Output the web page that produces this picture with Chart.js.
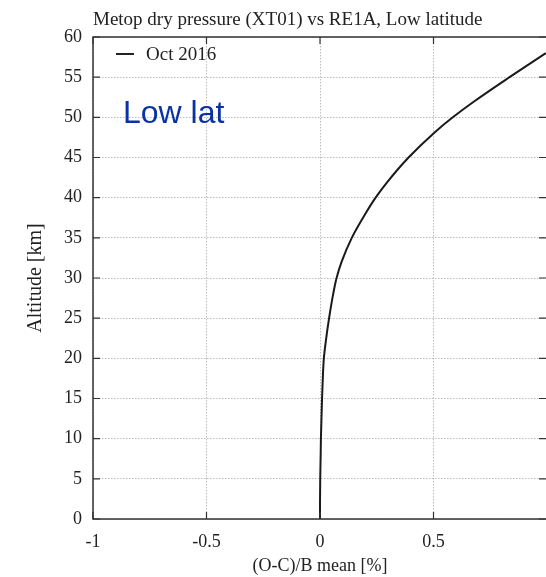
<!DOCTYPE html>
<html>
<head>
<meta charset="utf-8">
<script src="https://cdn.jsdelivr.net/npm/chart.js@4"></script>
<style>
  html, body { margin: 0; padding: 0; background: #fff; }
  #wrap { width: 546px; height: 577px; }
</style>
</head>
<body>
<div id="wrap"><canvas id="chartCanvas" width="546" height="577"></canvas></div>
<script>
// Altitude [km] and mean (O-C)/B [%]
const altitudes = [0, 2, 5, 8, 10, 12, 15, 18, 20, 22, 25, 28, 30, 32, 35, 38, 40, 42, 45, 48, 50, 52, 55, 58];
const omcMean = [0, 0, 0.001, 0.003, 0.004, 0.006, 0.009, 0.013, 0.017, 0.025, 0.04, 0.058, 0.073, 0.095, 0.14, 0.2, 0.245, 0.298, 0.39, 0.5, 0.585, 0.68, 0.835, 0.995];
const seriesLabel = 'Oct 2016';
const chartTitleText = 'Metop dry pressure (XT01) vs RE1A, Low latitude';
const xTicks = [-1, -0.5, 0, 0.5, 1];
const yTicks = [0, 5, 10, 15, 20, 25, 30, 35, 40, 45, 50, 55, 60];

const serif = '"Liberation Serif", "Times New Roman", serif';

// the original plot is cropped at x = 1, right on the picture's edge
const stretchArea = {
    id: 'stretchArea',
    afterLayout(chart) {
        const area = chart.chartArea;
        const xs = chart.scales.x;
        area.right = 547;
        area.width = area.right - area.left;
        xs.right = 547;
        xs.width = xs.right - xs.left;
        xs.configure();
    }
};

// Title, legend, note, frame and inward ticks (gnuplot look)
const decorations = {
    id: 'decorations',
    afterDraw(chart) {
        const { ctx, chartArea: a, scales } = chart;
        ctx.save();
        ctx.fillStyle = '#222';
        ctx.textBaseline = 'alphabetic';
        ctx.font = '19px ' + serif;
        ctx.textAlign = 'left';
        ctx.fillText(chartTitleText, 93, 25);

        // legend
        ctx.strokeStyle = '#222';
        ctx.lineWidth = 2;
        ctx.beginPath();
        ctx.moveTo(116, 54);
        ctx.lineTo(134, 54);
        ctx.stroke();
        ctx.fillText(seriesLabel, 146, 60);

        // panel note
        ctx.fillStyle = '#0a32a5';
        ctx.font = '32px "Liberation Sans", Arial, sans-serif';
        ctx.fillText('Low lat', 123, 123);

        // frame
        ctx.strokeStyle = '#333';
        ctx.lineWidth = 1.5;
        ctx.strokeRect(a.left, a.top, a.right - a.left, a.bottom - a.top);

        // inward ticks
        ctx.lineWidth = 1.2;
        ctx.beginPath();
        xTicks.forEach(v => {
            const x = scales.x.getPixelForValue(v);
            ctx.moveTo(x, a.bottom); ctx.lineTo(x, a.bottom - 7);
            ctx.moveTo(x, a.top); ctx.lineTo(x, a.top + 7);
        });
        yTicks.forEach(v => {
            const y = scales.y.getPixelForValue(v);
            ctx.moveTo(a.left, y); ctx.lineTo(a.left + 7, y);
            ctx.moveTo(a.right - 1, y); ctx.lineTo(a.right - 8, y);
        });
        ctx.stroke();
        ctx.restore();
    }
};

const ctx = document.getElementById('chartCanvas').getContext('2d');
new Chart(ctx, {
    type: 'scatter',
    data: {
        datasets: [{
            label: seriesLabel,
            data: altitudes.map((h, i) => ({ x: omcMean[i], y: h })),
            showLine: true,
            indexAxis: 'y',
            cubicInterpolationMode: 'monotone',
            borderColor: '#1a1a1a',
            borderWidth: 2,
            pointRadius: 0,
            fill: false
        }]
    },
    options: {
        responsive: false,
        animation: false,
        layout: { padding: { top: 37, left: 0, right: 0, bottom: 0 } },
        plugins: {
            legend: { display: false },
            tooltip: { enabled: false }
        },
        scales: {
            x: {
                type: 'linear',
                min: -1,
                max: 1,
                afterFit(scale) { scale.height = 58; },
                afterBuildTicks(scale) { scale.ticks = xTicks.map(v => ({ value: v })); },
                ticks: {
                    color: '#222',
                    font: { family: serif, size: 18 },
                    padding: 12,
                    maxRotation: 0,
                    callback: v => (v === 1 ? '' : String(v))
                },
                grid: { color: '#bdbdbd', lineWidth: 1, drawTicks: false },
                border: { display: false, dash: [1.5, 1.5] },
                title: {
                    display: true,
                    text: '(O-C)/B mean [%]',
                    color: '#222',
                    font: { family: serif, size: 18 },
                    padding: { top: 0, bottom: 0 }
                }
            },
            y: {
                type: 'linear',
                min: 0,
                max: 60,
                afterFit(scale) { scale.width = 93; },
                afterBuildTicks(scale) { scale.ticks = yTicks.map(v => ({ value: v })); },
                ticks: {
                    color: '#222',
                    font: { family: serif, size: 18 },
                    padding: 11
                },
                grid: { color: '#bdbdbd', lineWidth: 1, drawTicks: false },
                border: { display: false, dash: [1.5, 1.5] },
                title: {
                    display: true,
                    text: 'Altitude [km]',
                    color: '#222',
                    font: { family: serif, size: 20 },
                    padding: { top: 24, bottom: 0 }
                }
            }
        }
    },
    plugins: [stretchArea, decorations]
});
</script>
</body>
</html>
